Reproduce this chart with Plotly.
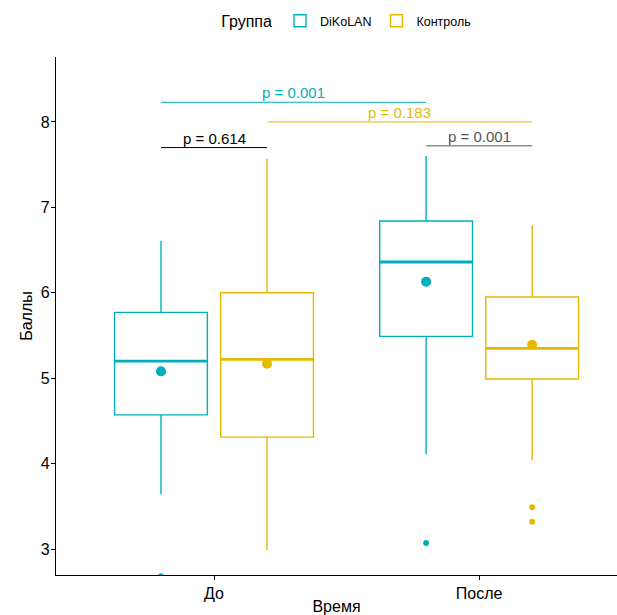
import plotly.graph_objects as go

# Time points and groups
times = ["До", "После"]
groups = ["DiKoLAN", "Контроль"]
colors = {"DiKoLAN": "#00AFBB", "Контроль": "#E7B800"}

# Box statistics per group, ordered as in `times`
lower_fence = {"DiKoLAN": [3.64, 4.11], "Контроль": [2.99, 4.04]}
q1 = {"DiKoLAN": [4.57, 5.49], "Контроль": [4.31, 4.99]}
median = {"DiKoLAN": [5.20, 6.36], "Контроль": [5.22, 5.35]}
q3 = {"DiKoLAN": [5.77, 6.84], "Контроль": [6.00, 5.95]}
upper_fence = {"DiKoLAN": [6.61, 7.60], "Контроль": [7.57, 6.79]}
means = {"DiKoLAN": [5.08, 6.13], "Контроль": [5.17, 5.39]}
outliers = {
    "DiKoLAN": [[2.68], [3.07]],
    "Контроль": [[], [3.49, 3.32]],
}

# Pairwise comparisons: (group_a, time_a, group_b, time_b, bracket level, label, colour)
comparisons = [
    ("DiKoLAN", 0, "DiKoLAN", 1, 8.23, "p = 0.001", "#00AFBB"),
    ("Контроль", 0, "Контроль", 1, 8.00, "p = 0.183", "#E7B800"),
    ("DiKoLAN", 0, "Контроль", 0, 7.70, "p = 0.614", "#000000"),
    ("DiKoLAN", 1, "Контроль", 1, 7.72, "p = 0.001", "#555555"),
]

FONT = "Liberation Sans, Arial"
dodge = {"DiKoLAN": -0.2, "Контроль": 0.2}
box_w = 0.35


def pos(g, i):
    return i + 1 + dodge[g]


fig = go.Figure()
for g in groups:
    xs = [pos(g, i) for i in range(len(times))]
    fig.add_trace(go.Box(
        x=xs, q1=q1[g], median=median[g], q3=q3[g],
        lowerfence=lower_fence[g], upperfence=upper_fence[g],
        name=g, width=box_w, whiskerwidth=0,
        line=dict(color=colors[g], width=1.4),
        fillcolor="white", boxpoints=False, hoverinfo="skip",
        legendgroup=g,
    ))
    # thicker median line
    for x, m in zip(xs, median[g]):
        fig.add_trace(go.Scatter(
            x=[x - box_w / 2, x + box_w / 2], y=[m, m], mode="lines",
            line=dict(color=colors[g], width=2.8), showlegend=False,
            hoverinfo="skip",
        ))
    # outliers
    ox, oy = [], []
    for i, vals in enumerate(outliers[g]):
        for v in vals:
            ox.append(pos(g, i))
            oy.append(v)
    fig.add_trace(go.Scatter(
        x=ox, y=oy, mode="markers", marker=dict(color=colors[g], size=6),
        showlegend=False, hoverinfo="skip", cliponaxis=True,
    ))
    # means
    fig.add_trace(go.Scatter(
        x=xs, y=means[g], mode="markers", marker=dict(color=colors[g], size=10),
        showlegend=False, hoverinfo="skip",
    ))

for ga, ta, gb, tb, level, label, col in comparisons:
    xa, xb = pos(ga, ta), pos(gb, tb)
    fig.add_shape(type="line", x0=xa, x1=xb, y0=level, y1=level,
                  xref="x", yref="y", line=dict(color=col, width=1))
    fig.add_annotation(x=(xa + xb) / 2, y=level, text=label, showarrow=False,
                       yanchor="bottom", yshift=-1,
                       font=dict(color=col, size=15, family=FONT))

fig.update_layout(
    width=617, height=615,
    margin=dict(l=56, r=0, t=57, b=40),
    plot_bgcolor="white", paper_bgcolor="white",
    font=dict(family=FONT, color="black"),
    showlegend=True,
    legend=dict(orientation="h", x=0.52, xanchor="center", y=0.99, yanchor="top",
                yref="container", itemwidth=30,
                title=dict(text="Группа", font=dict(size=16, family=FONT)),
                font=dict(size=12.5, family=FONT)),
    xaxis=dict(
        range=[0.404, 2.52], tickvals=[1, 2], ticktext=times,
        showline=True, linecolor="black", linewidth=1.2,
        ticks="outside", ticklen=4, tickcolor="black",
        showgrid=False, zeroline=False,
        tickfont=dict(size=16, color="black"),
        title=dict(text="Время", font=dict(size=16), standoff=2),
    ),
    yaxis=dict(
        range=[2.696, 8.76], tickvals=[3, 4, 5, 6, 7, 8],
        showline=True, linecolor="black", linewidth=1.2,
        ticks="outside", ticklen=4, tickcolor="black",
        showgrid=False, zeroline=False, ticklabelstandoff=-2,
        tickfont=dict(size=16, color="black"),
        title=dict(text="Баллы", font=dict(size=16), standoff=4),
    ),
)

fig.write_html("out.html")
